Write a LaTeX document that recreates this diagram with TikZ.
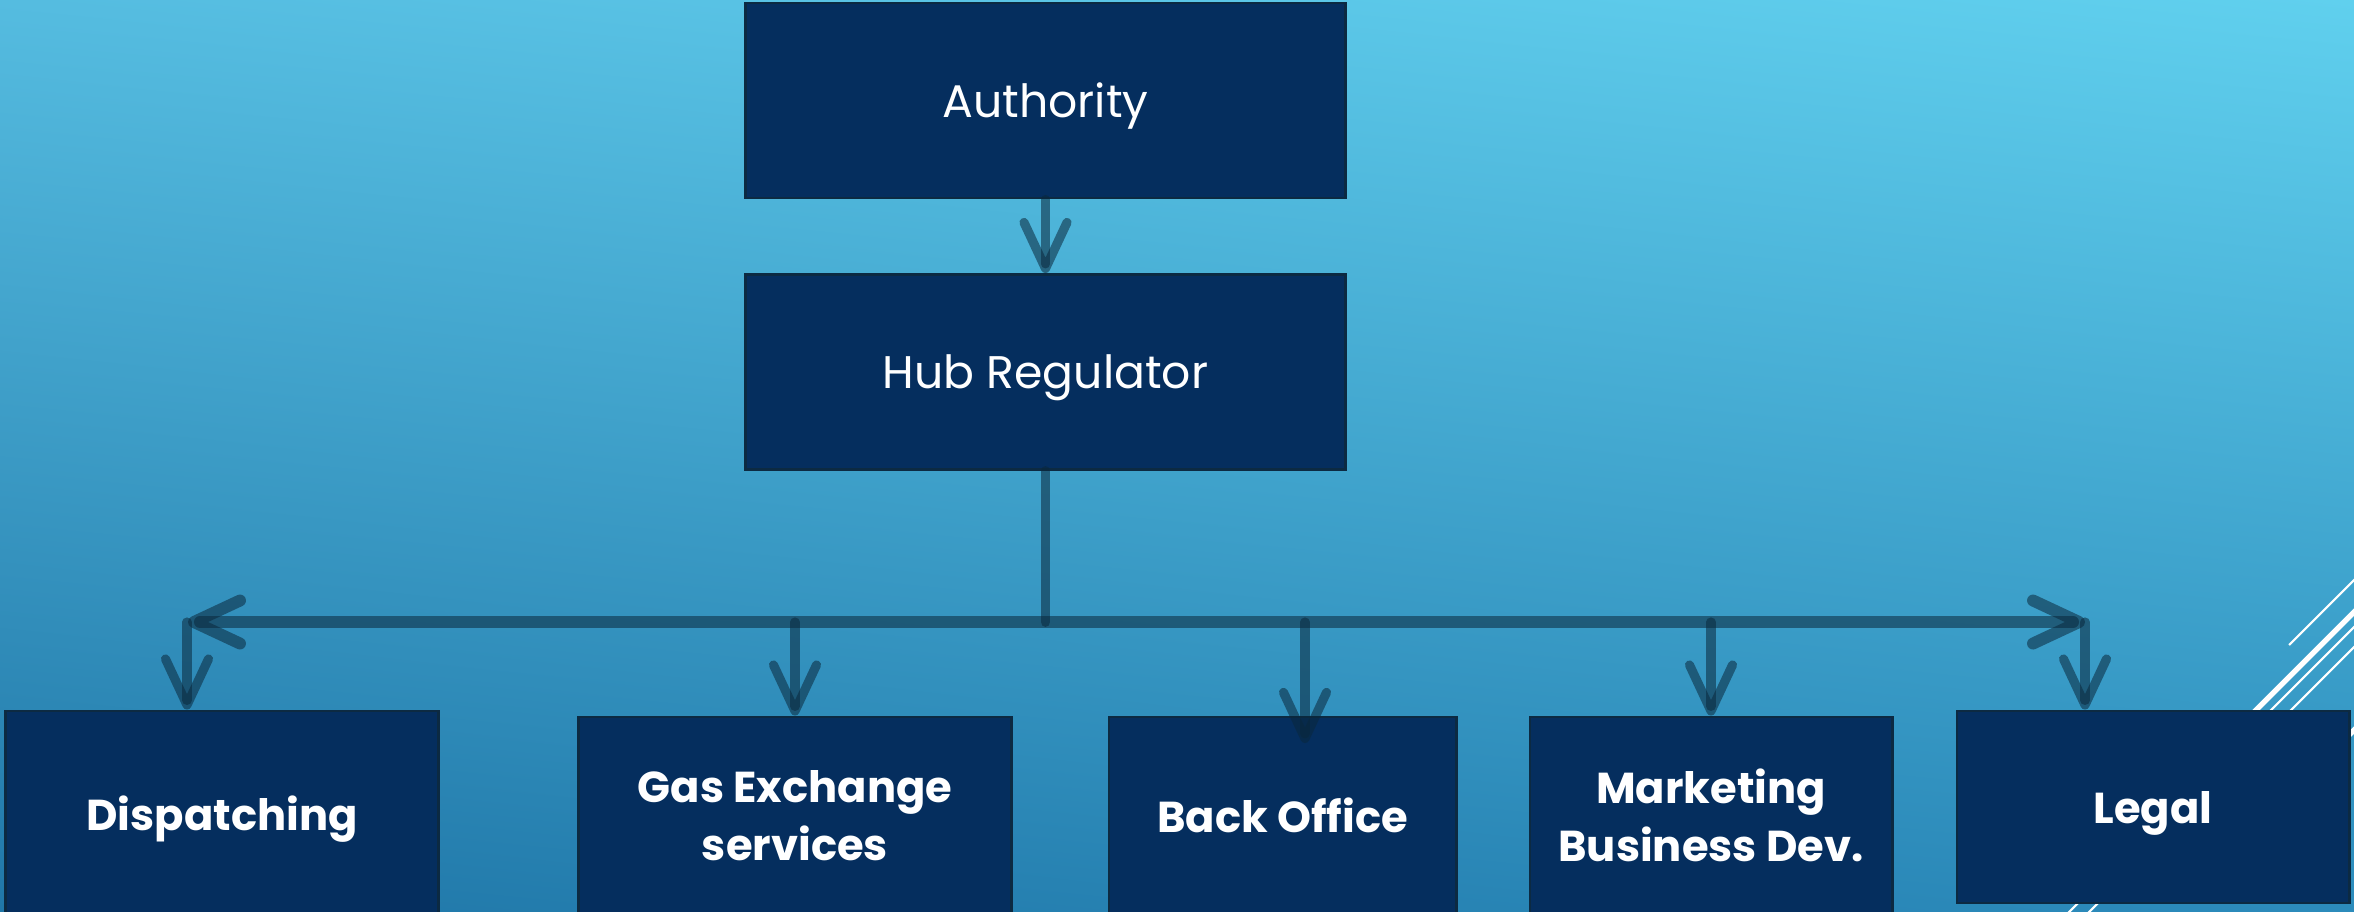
\documentclass[tikz,border=0pt]{standalone}
\usepackage{fontspec}
\setmainfont{Poppins}
\usetikzlibrary{arrows.meta,shadings}

\definecolor{boxblue}{HTML}{052E5E}
\definecolor{boxedge}{HTML}{0C2A42}
\definecolor{linkcol}{RGB}{10,40,60}
\definecolor{bgtl}{HTML}{55BCE0}
\definecolor{bgtr}{HTML}{60D0EE}
\definecolor{bgbl}{HTML}{2077A8}
\definecolor{bgbr}{HTML}{2C8BBB}

\begin{document}
\begin{tikzpicture}[x=0.01cm, y=0.01cm, >={Straight Barb[length=4.6mm,width=4.3mm,round]}]
\tikzstyle{every node}+=[inner sep=0pt]
\tikzstyle{unit}=[draw=boxedge, line width=0.8pt, fill=boxblue, text=white, align=center, text depth=0pt, font=\bfseries\fontsize{12.3}{16.5}\selectfont]
\tikzstyle{topunit}=[unit, minimum width=5.99cm, minimum height=1.95cm, font=\fontsize{13}{16}\selectfont]
\tikzstyle{link}=[draw=linkcol, draw opacity=0.55, line width=2.6pt, line cap=round]
\tikzstyle{thin}=[white, line width=0.6pt]
\tikzstyle{thick}=[white, line width=1.5pt]
\useasboundingbox (0,0) rectangle (2354,-911);
\clip (0,0) rectangle (2354,-911);
\shade [upper left=bgtl, upper right=bgtr, lower left=bgbl, lower right=bgbr] (0,0) rectangle (2354,-911);
\draw [thin] (2289,-645) -- (2370,-564);
\draw [thick] (2180,-786) -- (2380,-586);
\draw [thin] (2060,-921) -- (2400,-581);
\draw [thin] (2080,-921) -- (2400,-601);
\draw [thick] (2300,-784) -- (2380,-704);
\node [topunit] (auth) at (1045.5,-100.5) {Authority};
\node [topunit] (hub) at (1045.5,-372) {Hub Regulator};
\node [unit, minimum width=4.32cm, minimum height=2.04cm] (disp) at (222,-813) {Dispatching};
\node [unit, minimum width=4.32cm, minimum height=1.96cm] (gas) at (795,-815) {Gas Exchange\\services};
\node [unit, minimum width=3.47cm, minimum height=1.96cm] (back) at (1282.5,-815) {Back Office};
\node [unit, minimum width=3.62cm, minimum height=1.96cm] (mkt) at (1711,-815) {Marketing\\Business Dev.};
\node [unit, minimum width=3.92cm, minimum height=1.92cm] (legal) at (2153,-807) {Legal};
\coordinate (join) at (1045.5,-622);
\coordinate (barL) at (188,-622);
\coordinate (barR) at (2085,-622);
\coordinate (d1) at (187,-622);
\coordinate (d2) at (795,-622);
\coordinate (d3) at (1305,-622);
\coordinate (d4) at (1711,-622);
\coordinate (d5) at (2085,-622);
\coordinate (backtip) at (1305,-743);
\draw [link,->] (auth) -- (hub);
\draw [link, line width=2.8pt] (hub) -- (join);
\draw [link, line width=3.4pt, <->] (barL) -- (barR);
\draw [link,->] (d1) -- (d1 |- disp.north);
\draw [link,->] (d2) -- (d2 |- gas.north);
\draw [link,->] (d3) -- (backtip);
\draw [link,->] (d4) -- (d4 |- mkt.north);
\draw [link,->] (d5) -- (d5 |- legal.north);
\end{tikzpicture}
\end{document}
